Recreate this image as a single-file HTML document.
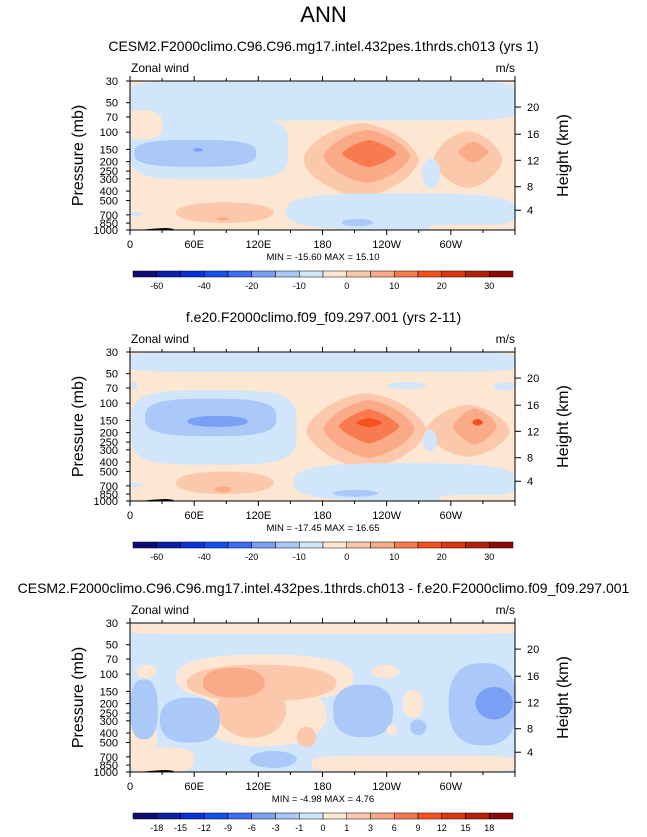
<!DOCTYPE html>
<html><head><meta charset="utf-8">
<style>
html,body{margin:0;padding:0;background:#fff;}
svg{display:block;font-family:"Liberation Sans",Arial,sans-serif;}
</style></head>
<body>
<svg id="chart" width="647" height="837" viewBox="0 0 647 837" xmlns="http://www.w3.org/2000/svg">
<text x="323.5" y="22" text-anchor="middle" font-size="22">ANN</text>
</svg>
<script>
// ---- data ----
const palette = ['#0d0d73','#0b1ea8','#0a32d8','#1450f0','#3c6ef5','#7aa0f5','#aac8f8','#d2e6fb','#fde6d2','#fcc8ac','#fbaa88','#f87b4f','#f6501e','#dc3510','#b4200a','#8c0a05'];
const titles = ['CESM2.F2000climo.C96.C96.mg17.intel.432pes.1thrds.ch013 (yrs 1)','f.e20.F2000climo.f09_f09.297.001 (yrs 2-11)','CESM2.F2000climo.C96.C96.mg17.intel.432pes.1thrds.ch013 - f.e20.F2000climo.f09_f09.297.001'];
const minMax = ['MIN = -15.60  MAX =  15.10','MIN = -17.45  MAX =  16.65','MIN =  -4.98  MAX =   4.76'];
const cbLabelsAbs = ['-60','','-40','','-20','','-10','','0','','10','','20','','30'];
const cbLabelsDiff = ['-18','-15','-12','-9','-6','-3','-1','0','1','3','6','9','12','15','18'];
const pressureTicks = [30,50,70,100,150,200,250,300,400,500,700,850,1000];
const lonTicks = [0,60,120,180,240,300];
const lonLabels = ['0','60E','120E','180','120W','60W'];
const heightKm = [20,16,12,8,4];
const heightP = [55.4,105,194,361,628];
const bgLevel = [8,8,7];
// blobs: [lonLeft, lonRight, pTop, pBottom, level, shapeExponent]
const blobs1 = [
 [0,360,30,76,7,8],
 [0,148,70,305,7,4],
 [-10,30,60,118,8,3],
 [4,118,120,226,6,3],
 [59,68,145,158,5,2],
 [162,270,81,455,9,1.6],
 [181,262,95,330,10,1.5],
 [198,249,120,228,11,1.3],
 [284,348,98,373,9,1.6],
 [307,335,124,206,10,1.3],
 [273,290,185,373,7,2],
 [146,362,420,1000,7,3],
 [280,370,880,1000,8,4],
 [198,227,770,915,6,2],
 [43,134,522,846,9,2.2],
 [81,92,740,800,10,2],
 [0,12,650,720,7,2]
];
const blobs2 = [
 [0,360,30,48,7,8],
 [241,277,61,72,7,2],
 [340,362,61,74,7,2],
 [0,7,61,72,7,2],
 [1,156,74,425,7,4],
 [14,137,90,218,6,3],
 [54,110,135,175,5,2.2],
 [165,277,79,461,9,1.6],
 [181,266,93,362,10,1.5],
 [195,252,115,258,11,1.3],
 [211,236,142,177,12,1.3],
 [277,355,104,353,9,1.6],
 [302,343,113,265,10,1.4],
 [320,330,145,170,12,1.5],
 [274,287,186,311,7,2],
 [153,362,410,1000,7,3],
 [290,370,870,1000,8,4],
 [190,232,770,905,6,2],
 [43,134,500,850,9,2.2],
 [79,95,710,815,10,2],
 [0,12,650,720,7,2]
];
const blobs3 = [
 [0,360,30,39,8,8],
 [170,362,680,1000,8,5],
 [0,60,560,1000,8,3],
 [0,25,280,1000,8,4],
 [6,25,80,110,8,2],
 [43,209,63,190,8,2.5],
 [65,184,123,550,8,2.2],
 [53,193,80,190,9,2.2],
 [81,146,123,450,9,2],
 [68,126,86,174,10,2.2],
 [156,174,345,560,9,2],
 [0,26,113,465,6,2.5],
 [28,84,174,500,6,2.5],
 [190,246,128,440,6,2.5],
 [298,362,77,535,6,2.5],
 [323,358,135,290,5,2],
 [262,277,290,420,6,2],
 [112,156,610,910,6,2],
 [226,252,80,110,8,2],
 [255,274,144,280,8,2],
 [240,249,330,420,8,2]
];
const panelBlobs = [blobs1, blobs2, blobs3];
const topoLon = [12,20,28,34,40,42];
const topoP = [990,975,960,955,970,1000];

// ---- layout ----
const NS='http://www.w3.org/2000/svg';
const svg=document.getElementById('chart');
const X0=130, W=385, BH=149, PSTEP=271;
function el(tag,attrs,parent){const e=document.createElementNS(NS,tag);for(const k in attrs)e.setAttribute(k,attrs[k]);(parent||svg).appendChild(e);return e;}
function xScale(lon){return X0+lon/360*W;}
function yScale(p,top){return top+BH*Math.log(p/30)/Math.log(1000/30);}

for(let k=0;k<3;k++){
  const top=81+k*PSTEP;
  const g=el('g',{});
  
  
  const t=el('text',{x:323.5,y:top-30,'text-anchor':'middle','font-size':14},g);
  t.textContent=titles[k];
  
  
  const zw=el('text',{x:131,y:top-9,'font-size':12},g);zw.textContent='Zonal wind';
  
  
  const un=el('text',{x:515,y:top-9,'text-anchor':'end','font-size':12},g);un.textContent='m/s';
  
  
  const cp=el('clipPath',{id:'clip'+k},g);
  el('rect',{x:X0,y:top,width:W,height:BH},cp);
  const plot=el('g',{'clip-path':'url(#clip'+k+')'},g);
  
  
  el('rect',{x:X0,y:top,width:W,height:BH,fill:palette[bgLevel[k]]},plot);
  panelBlobs[k].forEach(b=>{
    const x1=xScale(b[0]),x2=xScale(b[1]),y1=yScale(b[2],top),y2=yScale(b[3],top);
    const cx=(x1+x2)/2,cy=(y1+y2)/2,rx=(x2-x1)/2,ry=(y2-y1)/2,n=b[5];
    let d='';
    for(let i=0;i<=64;i++){const a=i/64*2*Math.PI,c=Math.cos(a),s=Math.sin(a);
      const px=cx+rx*Math.sign(c)*Math.pow(Math.abs(c),2/n),py=cy+ry*Math.sign(s)*Math.pow(Math.abs(s),2/n);
      d+=(i?'L':'M')+px.toFixed(1)+','+py.toFixed(1);}
    const pth=el('path',{d:d+'Z',fill:palette[b[4]]},plot);
    
    
  });
  let td='M'+xScale(topoLon[0])+','+(top+BH);
  topoLon.forEach((l,i)=>{td+='L'+xScale(l).toFixed(1)+','+yScale(topoP[i],top).toFixed(1);});
  const topo=el('path',{d:td+'Z',fill:'#000'},plot);
  
  
  el('rect',{x:X0,y:top,width:W,height:BH,fill:'none',stroke:'#000','stroke-width':1},g);
  for(let l=0;l<=360;l+=30){
    const x=xScale(l);const len=(l%60===0)?5:3;
    el('line',{x1:x,x2:x,y1:top,y2:top-len,stroke:'#000'},g);
    el('line',{x1:x,x2:x,y1:top+BH,y2:top+BH+len,stroke:'#000'},g);
  }
  lonTicks.forEach((l,i)=>{const tx=el('text',{x:xScale(l),y:top+BH+18,'text-anchor':'middle','font-size':11},g);tx.textContent=lonLabels[i];
    
    });
  pressureTicks.forEach(p=>{const y=yScale(p,top);
    el('line',{x1:X0,x2:X0-4,y1:y,y2:y,stroke:'#000'},g);
    const tx=el('text',{x:118,y:y+4,'text-anchor':'end','font-size':11},g);tx.textContent=p;
    
    });
  heightKm.forEach((h,i)=>{const y=yScale(heightP[i],top);
    el('line',{x1:X0+W,x2:X0+W+6,y1:y,y2:y,stroke:'#000'},g);
    const tx=el('text',{x:527,y:y+4,'font-size':11},g);tx.textContent=h;
    
    });
  const yt=el('text',{x:0,y:0,'text-anchor':'middle','font-size':16,transform:'translate(83,'+(top+BH/2)+') rotate(-90)'},g);yt.textContent='Pressure (mb)';
  
  
  const yt2=el('text',{x:0,y:0,'text-anchor':'middle','font-size':16,transform:'translate(568,'+(top+BH/2)+') rotate(-90)'},g);yt2.textContent='Height (km)';
  
  
  const mm=el('text',{x:323,y:top+BH+30,'text-anchor':'middle','font-size':9.5},g);mm.textContent=minMax[k];
  
  
  const cb=el('g',{},g);
  
  
  const cbx=133,cbw=380,cby=top+190,bw=cbw/16;
  palette.forEach((c,i)=>{const r=el('rect',{x:cbx+i*bw,y:cby,width:bw,height:6,fill:c,stroke:'#000','stroke-width':0.5},cb);
    
    });
  const labs=k<2?cbLabelsAbs:cbLabelsDiff;
  labs.forEach((s,i)=>{if(!s)return;const tx=el('text',{x:cbx+(i+1)*bw,y:cby+18,'text-anchor':'middle','font-size':9},cb);tx.textContent=s;
    
    });
}
</script>
</body></html>
